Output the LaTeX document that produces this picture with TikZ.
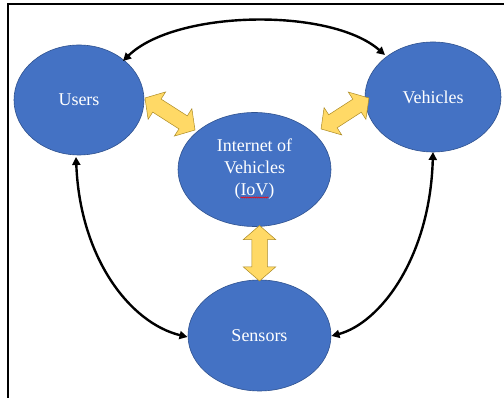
\documentclass[tikz,border=0pt]{standalone}
\usepackage{fontspec}
\setmainfont{Liberation Serif}
\usetikzlibrary{shapes.geometric,shapes.arrows,arrows.meta,decorations.pathmorphing}
\definecolor{nodeblue}{HTML}{4472C4}
\definecolor{nodeedge}{HTML}{2F528F}
\definecolor{arrowyellow}{HTML}{FFD966}
\definecolor{arrowedge}{HTML}{BF9000}
\tikzset{
  blob/.style={ellipse, fill=nodeblue, draw=nodeedge, line width=0.6pt, inner sep=0pt,
    text=white, font=\fontsize{18}{22}\selectfont, align=center},
  fatlink/.style={double arrow, fill=arrowyellow, draw=arrowedge!70!gray, line width=0.5pt,
    inner xsep=0pt, inner ysep=7.5pt, minimum width=32pt, double arrow head extend=8.5pt,
    double arrow tip angle=98, anchor=center},
  curvelink/.style={line width=2.4pt, {Triangle[length=8pt,width=8pt]}-{Triangle[length=8pt,width=8pt]}},
}
\begin{document}
\begin{tikzpicture}[x=1pt,y=1pt]
\useasboundingbox (0,0) rectangle (504,398);
\fill[white] (0,0) rectangle (504,398);
% frame
\draw[line width=2pt] (7.5,0) -- (7.5,393.5) -- (504,393.5);
% nodes
\node[blob, minimum width=130pt, minimum height=110pt] (users) at (79,298) {Users};
\node[blob, minimum width=136pt, minimum height=110pt] (vehicles) at (433,301) {Vehicles};
\node[blob, minimum width=153pt, minimum height=114pt] (iov) at (254.5,228.5) {Internet of\\Vehicles\\(IoV)};
\node[blob, minimum width=143pt, minimum height=111pt] (sensors) at (259.5,62.5) {Sensors};
% spell-check underline
\draw[red, line width=0.5pt, decorate, decoration={snake, amplitude=0.6pt, segment length=2.2pt}]
  ([xshift=-14pt,yshift=-28pt]iov.center) -- ([xshift=14pt,yshift=-28pt]iov.center);
% black curved links
\coordinate (uTop) at (123,337);
\coordinate (vTop) at (385,343);
\coordinate (uBot) at (76,241);
\coordinate (sLeft) at (187.5,61);
\coordinate (vBot) at (433,246);
\coordinate (sRight) at (331.5,62);
\draw[curvelink] (uTop) .. controls (175,388) and (330,391) .. (vTop);
\draw[curvelink] (uBot) .. controls (80,140) and (130,75) .. (sLeft);
\draw[curvelink] (vBot) .. controls (430,140) and (380,75) .. (sRight);
% yellow fat double arrows
\coordinate (a1) at (145,300);
\coordinate (a2) at (195,268);
\coordinate (b1) at (321,269);
\coordinate (b2) at (369,300);
\coordinate (c1) at (259.5,172.5);
\coordinate (c2) at (259.5,117);
\path (a1) -- (a2) node[midway, sloped, fatlink, minimum height=59.4pt] (fa) {};
\path (b1) -- (b2) node[midway, sloped, fatlink, minimum height=57pt] (fb) {};
\path (c1) -- (c2) node[midway, sloped, fatlink, minimum height=55.5pt] (fc) {};
\end{tikzpicture}
\end{document}
